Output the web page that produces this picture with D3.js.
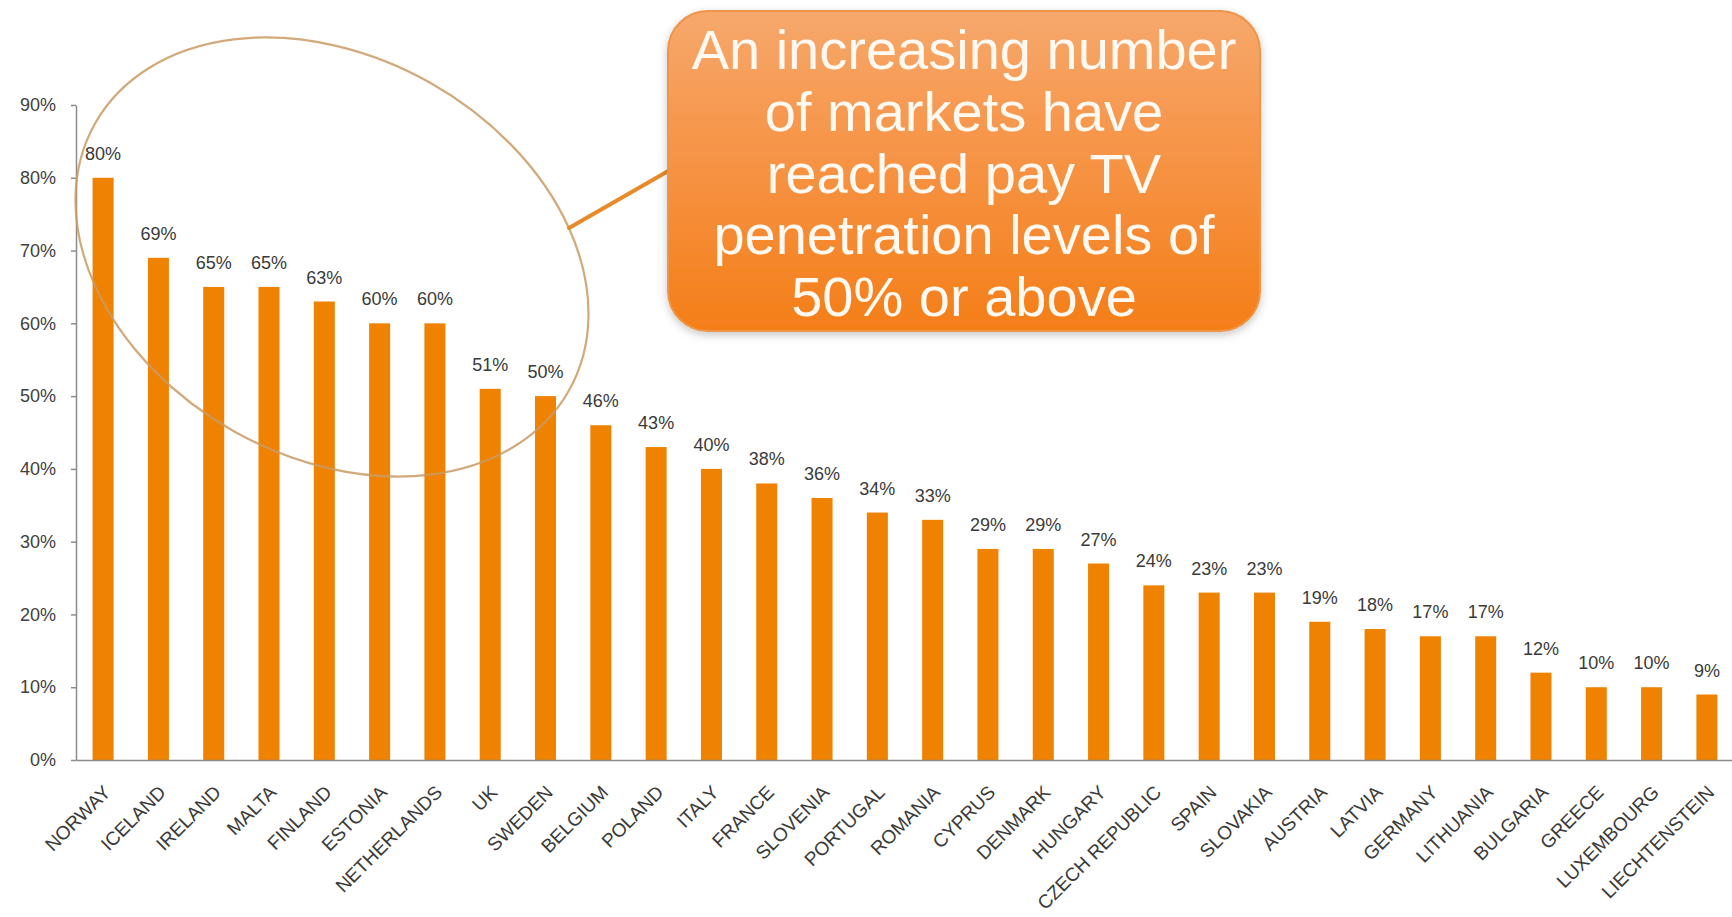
<!DOCTYPE html>
<html>
<head>
<meta charset="utf-8">
<script src="https://cdn.jsdelivr.net/npm/d3@7/dist/d3.min.js"></script>
<style>
  html, body { margin: 0; padding: 0; background: #ffffff; }
  svg { display: block; }
</style>
</head>
<body>
<script>
// Pay TV penetration by market
const categories = [
  "NORWAY", "ICELAND", "IRELAND", "MALTA", "FINLAND", "ESTONIA", "NETHERLANDS",
  "UK", "SWEDEN", "BELGIUM", "POLAND", "ITALY", "FRANCE", "SLOVENIA", "PORTUGAL",
  "ROMANIA", "CYPRUS", "DENMARK", "HUNGARY", "CZECH REPUBLIC", "SPAIN", "SLOVAKIA",
  "AUSTRIA", "LATVIA", "GERMANY", "LITHUANIA", "BULGARIA", "GREECE", "LUXEMBOURG",
  "LIECHTENSTEIN"
];
const penetration = [
  80, 69, 65, 65, 63, 60, 60,
  51, 50, 46, 43, 40, 38, 36, 34,
  33, 29, 29, 27, 24, 23, 23,
  19, 18, 17, 17, 12, 10, 10,
  9
];
const yTicks = [0, 10, 20, 30, 40, 50, 60, 70, 80, 90];
const calloutLines = [
  "An increasing number",
  "of markets have",
  "reached pay TV",
  "penetration levels of",
  "50% or above"
];

const W = 1732, H = 917;
const svg = d3.select("body").append("svg").attr("width", W).attr("height", H);

const defs = svg.append("defs");
const grad = defs.append("linearGradient").attr("id", "boxFill")
  .attr("x1", 0).attr("y1", 0).attr("x2", 0).attr("y2", 1);
grad.append("stop").attr("offset", "0%").attr("stop-color", "#f6a86c");
grad.append("stop").attr("offset", "45%").attr("stop-color", "#f69446");
grad.append("stop").attr("offset", "100%").attr("stop-color", "#f47e18");

const shadow = defs.append("filter").attr("id", "soft")
  .attr("x", "-10%").attr("y", "-10%").attr("width", "120%").attr("height", "125%");
shadow.append("feDropShadow").attr("dx", 0).attr("dy", 3).attr("stdDeviation", 4)
  .attr("flood-color", "#000").attr("flood-opacity", 0.22);

const x = d3.scaleBand().domain(categories).range([76, 1734])
  .paddingInner(0.62).paddingOuter(0.3);
const y = d3.scaleLinear().domain([0, 90]).range([760, 105]);

const font = "'Liberation Sans', Arial, sans-serif";

// y axis
const yAxis = svg.append("g").attr("transform", "translate(76,0)")
  .call(d3.axisLeft(y).tickValues(yTicks).tickFormat(d => d + "%")
    .tickSize(5).tickSizeOuter(0).tickPadding(15));
yAxis.select(".domain").attr("stroke", "#8c8c8c").attr("stroke-width", 1.5);
yAxis.selectAll(".tick line").attr("stroke", "#8c8c8c").attr("stroke-width", 1.5);
yAxis.selectAll(".tick text").attr("fill", "#404040")
  .style("font-family", font).style("font-size", "18px");

// bars
svg.append("g").selectAll("rect").data(categories).join("rect")
  .attr("x", d => x(d))
  .attr("width", x.bandwidth())
  .attr("y", (d, i) => y(penetration[i]))
  .attr("height", (d, i) => y(0) - y(penetration[i]))
  .attr("fill", "#ef8200");

// value labels
svg.append("g").selectAll("text").data(categories).join("text")
  .attr("x", d => x(d) + x.bandwidth() / 2)
  .attr("y", (d, i) => y(penetration[i]) - 18)
  .attr("text-anchor", "middle")
  .attr("fill", "#3a3a3a")
  .style("font-family", font).style("font-size", "18px")
  .text((d, i) => penetration[i] + "%");

// x axis
const xAxis = svg.append("g").attr("transform", "translate(0,760)")
  .call(d3.axisBottom(x).tickSize(0).tickSizeOuter(0).tickPadding(0));
xAxis.select(".domain").attr("stroke", "#8c8c8c").attr("stroke-width", 1.5);
xAxis.selectAll(".tick text")
  .attr("text-anchor", "end")
  .attr("fill", "#3a3a3a")
  .attr("dy", null)
  .attr("x", 0).attr("y", 0)
  .attr("transform", "translate(5,30) rotate(-45)")
  .attr("dominant-baseline", "middle")
  .style("font-family", font).style("font-size", "19px");

// highlight ring round the leading markets
svg.append("ellipse")
  .attr("transform", "translate(332,257) rotate(29.4)")
  .attr("rx", 272).attr("ry", 200)
  .attr("fill", "none")
  .attr("stroke", "#c99a63")
  .attr("stroke-opacity", 0.85)
  .attr("stroke-width", 2.2);

// connector from the ring to the callout
svg.append("line")
  .attr("x1", 569).attr("y1", 228).attr("x2", 670).attr("y2", 170)
  .attr("stroke", "#e8892a").attr("stroke-width", 4).attr("stroke-linecap", "round");

// callout
const box = svg.append("g");
box.append("rect")
  .attr("x", 668).attr("y", 11).attr("width", 592).attr("height", 320)
  .attr("rx", 40).attr("ry", 40)
  .attr("fill", "url(#boxFill)")
  .attr("stroke", "#ee9548").attr("stroke-width", 2)
  .attr("filter", "url(#soft)");
box.selectAll("text").data(calloutLines).join("text")
  .attr("x", 964)
  .attr("y", (d, i) => 69 + i * 61.8)
  .attr("text-anchor", "middle")
  .attr("fill", "#fff9f2")
  .style("font-family", font).style("font-size", "56px")
  .text(d => d);
</script>
</body>
</html>
